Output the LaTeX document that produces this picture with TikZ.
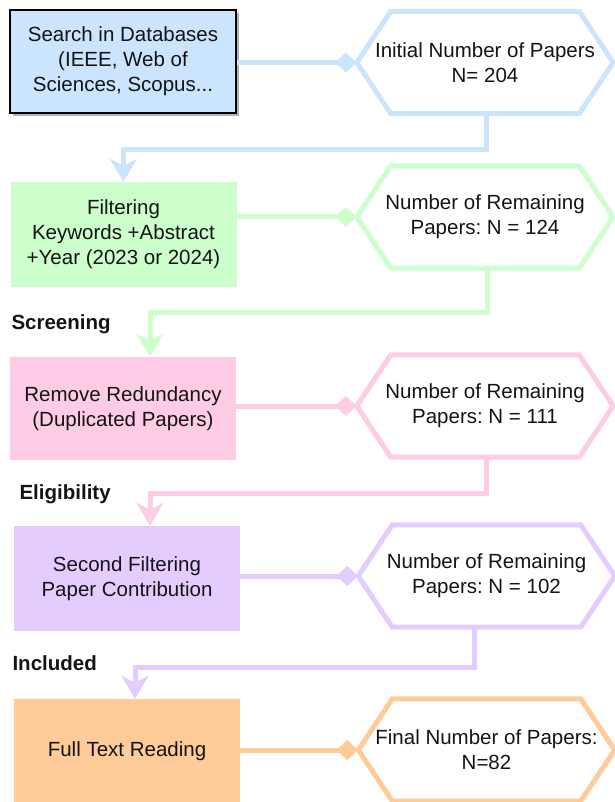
\documentclass[tikz,border=0pt]{standalone}
\usepackage{fontspec}
\setmainfont{Liberation Sans}
\usetikzlibrary{arrows.meta,shadows}
\definecolor{cblue}{HTML}{CCE5FF}
\definecolor{cgreen}{HTML}{CCFFCC}
\definecolor{cpink}{HTML}{FFCCE6}
\definecolor{cpurple}{HTML}{E5CCFF}
\definecolor{corange}{HTML}{FFCC99}
\frenchspacing
\begin{document}
\begin{tikzpicture}[x=1pt,y=-1pt,
  every node/.style={font=\fontsize{20.5}{25}\selectfont, text=black!92},
  procbox/.style={minimum width=226pt, minimum height=105pt, align=center, inner sep=0pt},
  hexbox/.style={minimum width=256pt, minimum height=102pt, align=center, inner sep=0pt},
  hexline/.style={line width=5pt, line join=miter},
  conn/.style={line width=5pt},
  linkarrow/.style={conn, -{Stealth[length=23pt,width=27pt,inset=7pt]}},
  diamondlink/.style={conn, -{Diamond[length=22pt,width=20pt]}},
  phase/.style={anchor=west, font=\fontsize{20.5}{25}\selectfont\bfseries}
]
\useasboundingbox (0,0) rectangle (614,802);

% process boxes
\node[procbox, fill=cblue, draw=black, line width=1.5pt, minimum height=103pt,
      drop shadow={shadow xshift=3pt, shadow yshift=-3pt, opacity=0.3, fill=black}]
      (b1) at (123,61.5) {Search in Databases\\(IEEE, Web of\\Sciences, Scopus...};
\node[procbox, fill=cgreen] (b2) at (123.5,234.5) {Filtering\\Keywords +Abstract\\+Year (2023 or 2024)};
\node[procbox, fill=cpink, minimum height=103pt] (b3) at (123,408.5) {Remove Redundancy\\(Duplicated Papers)};
\node[procbox, fill=cpurple] (b4) at (127,578.5) {Second Filtering\\Paper Contribution};
\node[procbox, fill=corange] (b5) at (127,751.5) {Full Text Reading};

% hexagon nodes
\node[hexbox] (h1) at (485,62.5) {Initial Number of Papers\\N= 204};
\node[hexbox] (h2) at (485,217) {Number of Remaining\\Papers: N = 124};
\node[hexbox] (h3) at (485,406) {Number of Remaining\\Papers: N = 111};
\node[hexbox] (h4) at (486.5,576) {Number of Remaining\\Papers: N = 102};
\node[hexbox] (h5) at (486.5,750) {Final Number of Papers:\\N=82};

\foreach \n/\c in {h1/cblue,h2/cgreen,h3/cpink,h4/cpurple,h5/corange}
  \draw[hexline, draw=\c] (\n.west) -- ([xshift=34pt]\n.north west) -- ([xshift=-34pt]\n.north east)
     -- (\n.east) -- ([xshift=-34pt]\n.south east) -- ([xshift=34pt]\n.south west) -- cycle;

% phase labels
\node[phase] (l1) at (8,324) {Screening};
\node[phase] (l2) at (16,494) {Eligibility};
\node[phase] (l3) at (9,663) {Included};

% horizontal links box -> hexagon
\draw[diamondlink, cblue]   (b1.east |- h1.west) -- (h1.west);
\draw[diamondlink, cgreen]  (b2.east |- h2.west) -- (h2.west);
\draw[diamondlink, cpink]   (b3.east |- h3.west) -- (h3.west);
\draw[diamondlink, cpurple] (b4.east |- h4.west) -- (h4.west);
\draw[diamondlink, corange] (b5.east |- h5.west) -- (h5.west);

% links hexagon -> next box
\draw[linkarrow, cblue]   ([xshift=1pt]h1.south) -- ++(0,36) -| (b2.north);
\draw[linkarrow, cgreen]  ([xshift=2pt]h2.south) -- ++(0,44) -| ([xshift=27pt]b3.north);
\draw[linkarrow, cpink]   ([xshift=1pt]h3.south) -- ++(0,36) -| ([xshift=23pt]b4.north);
\draw[linkarrow, cpurple] ([xshift=-12.5pt]h4.south) -- ++(0,40) -| ([xshift=8pt]b5.north);
\end{tikzpicture}
\end{document}
